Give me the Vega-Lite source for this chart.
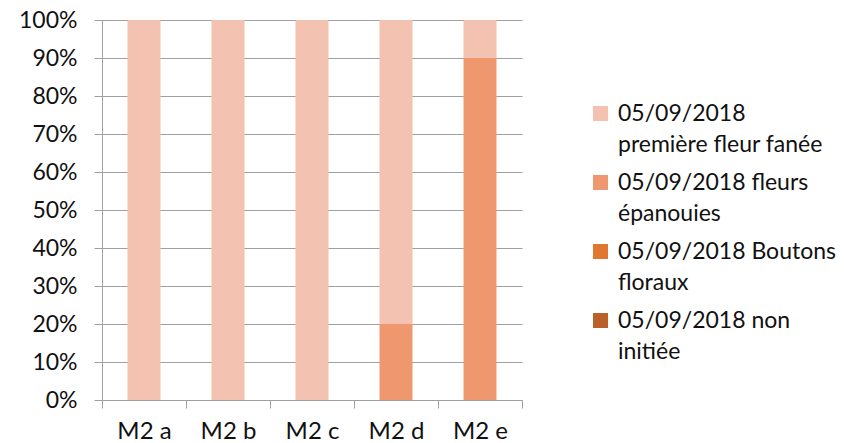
{
  "$schema": "https://vega.github.io/schema/vega-lite/v6.json",
  "autosize": "none",
  "width": 420,
  "height": 380,
  "padding": {"left": 102, "top": 20, "right": 322, "bottom": 43},
  "background": "#ffffff",
  "data": {
    "values": [
      {"parcelle": "M2 a", "stade": 1, "serie": "05/09/2018 non initiée", "part": 0},
      {"parcelle": "M2 a", "stade": 2, "serie": "05/09/2018 Boutons floraux", "part": 0},
      {"parcelle": "M2 a", "stade": 3, "serie": "05/09/2018 fleurs épanouies", "part": 0},
      {"parcelle": "M2 a", "stade": 4, "serie": "05/09/2018 première fleur fanée", "part": 100},
      {"parcelle": "M2 b", "stade": 1, "serie": "05/09/2018 non initiée", "part": 0},
      {"parcelle": "M2 b", "stade": 2, "serie": "05/09/2018 Boutons floraux", "part": 0},
      {"parcelle": "M2 b", "stade": 3, "serie": "05/09/2018 fleurs épanouies", "part": 0},
      {"parcelle": "M2 b", "stade": 4, "serie": "05/09/2018 première fleur fanée", "part": 100},
      {"parcelle": "M2 c", "stade": 1, "serie": "05/09/2018 non initiée", "part": 0},
      {"parcelle": "M2 c", "stade": 2, "serie": "05/09/2018 Boutons floraux", "part": 0},
      {"parcelle": "M2 c", "stade": 3, "serie": "05/09/2018 fleurs épanouies", "part": 0},
      {"parcelle": "M2 c", "stade": 4, "serie": "05/09/2018 première fleur fanée", "part": 100},
      {"parcelle": "M2 d", "stade": 1, "serie": "05/09/2018 non initiée", "part": 0},
      {"parcelle": "M2 d", "stade": 2, "serie": "05/09/2018 Boutons floraux", "part": 0},
      {"parcelle": "M2 d", "stade": 3, "serie": "05/09/2018 fleurs épanouies", "part": 20},
      {"parcelle": "M2 d", "stade": 4, "serie": "05/09/2018 première fleur fanée", "part": 80},
      {"parcelle": "M2 e", "stade": 1, "serie": "05/09/2018 non initiée", "part": 0},
      {"parcelle": "M2 e", "stade": 2, "serie": "05/09/2018 Boutons floraux", "part": 0},
      {"parcelle": "M2 e", "stade": 3, "serie": "05/09/2018 fleurs épanouies", "part": 90},
      {"parcelle": "M2 e", "stade": 4, "serie": "05/09/2018 première fleur fanée", "part": 10}
    ]
  },
  "mark": {"type": "bar", "size": 33},
  "encoding": {
    "x": {
      "field": "parcelle",
      "type": "nominal",
      "scale": {"paddingInner": 0, "paddingOuter": 0},
      "axis": {
        "title": null,
        "labelAngle": 0,
        "tickBand": "extent",
        "tickSize": 8,
        "labelPadding": 11,
        "labelFontSize": 24,
        "domainColor": "#A0A0A0",
        "tickColor": "#A0A0A0",
        "grid": false
      }
    },
    "y": {
      "field": "part",
      "type": "quantitative",
      "stack": "normalize",
      "axis": {
        "title": null,
        "values": [0, 0.1, 0.2, 0.3, 0.4, 0.5, 0.6, 0.7, 0.8, 0.9, 1],
        "format": ".0%",
        "tickSize": 8,
        "labelPadding": 17,
        "labelFontSize": 23,
        "domainColor": "#A0A0A0",
        "tickColor": "#A0A0A0",
        "gridColor": "#A0A0A0",
        "grid": true
      }
    },
    "order": {"field": "stade", "type": "quantitative", "sort": "ascending"},
    "color": {
      "field": "serie",
      "type": "nominal",
      "scale": {
        "domain": [
          "05/09/2018 première fleur fanée",
          "05/09/2018 fleurs épanouies",
          "05/09/2018 Boutons floraux",
          "05/09/2018 non initiée"
        ],
        "range": ["#F4C2B0", "#EF9870", "#E07630", "#BA6028"]
      },
      "legend": {
        "title": null,
        "orient": "none",
        "legendX": 487,
        "legendY": 82,
        "padding": 0,
        "symbolType": "square",
        "symbolSize": 225,
        "symbolStrokeWidth": 0,
        "symbolOpacity": 1,
        "labelOffset": 6,
        "labelLimit": 400,
        "rowPadding": 14,
        "labelFontSize": 23,
        "labelExpr": "datum.value == '05/09/2018 première fleur fanée' ? ['05/09/2018', 'première fleur fanée'] : [slice(datum.value, 0, lastindexof(datum.value, ' ')), slice(datum.value, lastindexof(datum.value, ' ') + 1)]",
        "encode": {
          "labels": {"update": {"lineHeight": {"value": 31}}}
        }
      }
    }
  },
  "config": {
    "font": "Lato",
    "view": {"stroke": null},
    "axis": {"labelFont": "Lato", "labelColor": "#111111"},
    "legend": {"labelFont": "Lato", "labelColor": "#111111"}
  }
}
